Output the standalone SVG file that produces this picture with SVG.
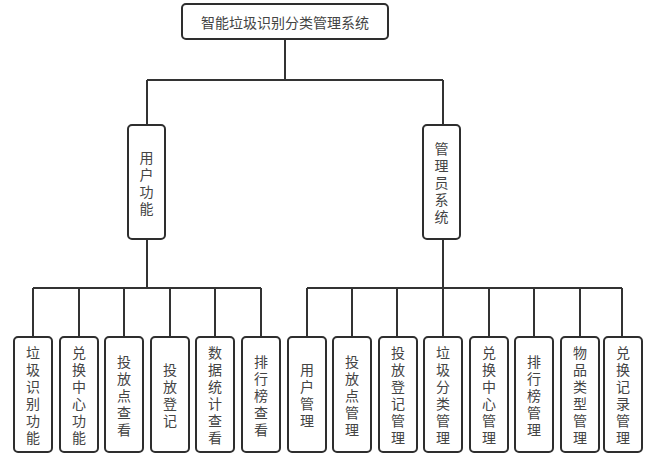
<svg xmlns="http://www.w3.org/2000/svg" width="657" height="459" viewBox="0 0 657 459">
<style>
.n{fill:#fff;stroke:#2e2e2e;stroke-width:2}
.t{font-family:"Noto Sans CJK SC","Noto Sans",sans-serif;font-size:14px;fill:#444;text-anchor:middle;dominant-baseline:central}
.c{fill:none;stroke:#333;stroke-width:2}
</style>
<rect width="657" height="459" fill="#fff"/>
<g id="connectors">
<path class="c" d="M285 39V80M147 80H443M147 80V125M443 80V125"/>
<path class="c" d="M147 239V288M33 288H261M33 288V337M79 288V337M124 288V337M170 288V337M215 288V337M261 288V337"/>
<path class="c" d="M443 239V288M307 288H622M307 288V337M352 288V337M397 288V337M443 288V337M489 288V337M534 288V337M580 288V337M622 288V337"/>
</g>
<g id="root"><rect class="n" x="182" y="4" width="206" height="35" rx="4"/><text class="t" x="285" y="21.5">智能垃圾识别分类管理系统</text></g>
<g id="user"><rect class="n" x="128" y="125" width="37" height="114" rx="4"/><text class="t"><tspan x="146.5" y="156.5">用</tspan><tspan x="146.5" y="173.5">户</tspan><tspan x="146.5" y="190.5">功</tspan><tspan x="146.5" y="207.5">能</tspan></text></g>
<g id="admin"><rect class="n" x="423" y="125" width="37" height="114" rx="4"/><text class="t"><tspan x="441.5" y="148">管</tspan><tspan x="441.5" y="165">理</tspan><tspan x="441.5" y="182">员</tspan><tspan x="441.5" y="199">系</tspan><tspan x="441.5" y="216">统</tspan></text></g>
<g id="u1"><rect class="n" x="14" y="337" width="38" height="115" rx="4"/><text class="t"><tspan x="33" y="352">垃</tspan><tspan x="33" y="369">圾</tspan><tspan x="33" y="386">识</tspan><tspan x="33" y="403">别</tspan><tspan x="33" y="420">功</tspan><tspan x="33" y="437">能</tspan></text></g>
<g id="u2"><rect class="n" x="60" y="337" width="38" height="115" rx="4"/><text class="t"><tspan x="79" y="352">兑</tspan><tspan x="79" y="369">换</tspan><tspan x="79" y="386">中</tspan><tspan x="79" y="403">心</tspan><tspan x="79" y="420">功</tspan><tspan x="79" y="437">能</tspan></text></g>
<g id="u3"><rect class="n" x="105" y="337" width="38" height="115" rx="4"/><text class="t"><tspan x="124" y="360.5">投</tspan><tspan x="124" y="377.5">放</tspan><tspan x="124" y="394.5">点</tspan><tspan x="124" y="411.5">查</tspan><tspan x="124" y="428.5">看</tspan></text></g>
<g id="u4"><rect class="n" x="151" y="337" width="38" height="115" rx="4"/><text class="t"><tspan x="170" y="369">投</tspan><tspan x="170" y="386">放</tspan><tspan x="170" y="403">登</tspan><tspan x="170" y="420">记</tspan></text></g>
<g id="u5"><rect class="n" x="196" y="337" width="38" height="115" rx="4"/><text class="t"><tspan x="215" y="352">数</tspan><tspan x="215" y="369">据</tspan><tspan x="215" y="386">统</tspan><tspan x="215" y="403">计</tspan><tspan x="215" y="420">查</tspan><tspan x="215" y="437">看</tspan></text></g>
<g id="u6"><rect class="n" x="242" y="337" width="38" height="115" rx="4"/><text class="t"><tspan x="261" y="360.5">排</tspan><tspan x="261" y="377.5">行</tspan><tspan x="261" y="394.5">榜</tspan><tspan x="261" y="411.5">查</tspan><tspan x="261" y="428.5">看</tspan></text></g>
<g id="a1"><rect class="n" x="288" y="337" width="38" height="115" rx="4"/><text class="t"><tspan x="307" y="369">用</tspan><tspan x="307" y="386">户</tspan><tspan x="307" y="403">管</tspan><tspan x="307" y="420">理</tspan></text></g>
<g id="a2"><rect class="n" x="333" y="337" width="38" height="115" rx="4"/><text class="t"><tspan x="352" y="360.5">投</tspan><tspan x="352" y="377.5">放</tspan><tspan x="352" y="394.5">点</tspan><tspan x="352" y="411.5">管</tspan><tspan x="352" y="428.5">理</tspan></text></g>
<g id="a3"><rect class="n" x="379" y="337" width="38" height="115" rx="4"/><text class="t"><tspan x="398" y="352">投</tspan><tspan x="398" y="369">放</tspan><tspan x="398" y="386">登</tspan><tspan x="398" y="403">记</tspan><tspan x="398" y="420">管</tspan><tspan x="398" y="437">理</tspan></text></g>
<g id="a4"><rect class="n" x="424" y="337" width="38" height="115" rx="4"/><text class="t"><tspan x="443" y="352">垃</tspan><tspan x="443" y="369">圾</tspan><tspan x="443" y="386">分</tspan><tspan x="443" y="403">类</tspan><tspan x="443" y="420">管</tspan><tspan x="443" y="437">理</tspan></text></g>
<g id="a5"><rect class="n" x="470" y="337" width="38" height="115" rx="4"/><text class="t"><tspan x="489" y="352">兑</tspan><tspan x="489" y="369">换</tspan><tspan x="489" y="386">中</tspan><tspan x="489" y="403">心</tspan><tspan x="489" y="420">管</tspan><tspan x="489" y="437">理</tspan></text></g>
<g id="a6"><rect class="n" x="515" y="337" width="38" height="115" rx="4"/><text class="t"><tspan x="534" y="360.5">排</tspan><tspan x="534" y="377.5">行</tspan><tspan x="534" y="394.5">榜</tspan><tspan x="534" y="411.5">管</tspan><tspan x="534" y="428.5">理</tspan></text></g>
<g id="a7"><rect class="n" x="561" y="337" width="38" height="115" rx="4"/><text class="t"><tspan x="580" y="352">物</tspan><tspan x="580" y="369">品</tspan><tspan x="580" y="386">类</tspan><tspan x="580" y="403">型</tspan><tspan x="580" y="420">管</tspan><tspan x="580" y="437">理</tspan></text></g>
<g id="a8"><rect class="n" x="604" y="337" width="38" height="115" rx="4"/><text class="t"><tspan x="623" y="352">兑</tspan><tspan x="623" y="369">换</tspan><tspan x="623" y="386">记</tspan><tspan x="623" y="403">录</tspan><tspan x="623" y="420">管</tspan><tspan x="623" y="437">理</tspan></text></g>
</svg>
